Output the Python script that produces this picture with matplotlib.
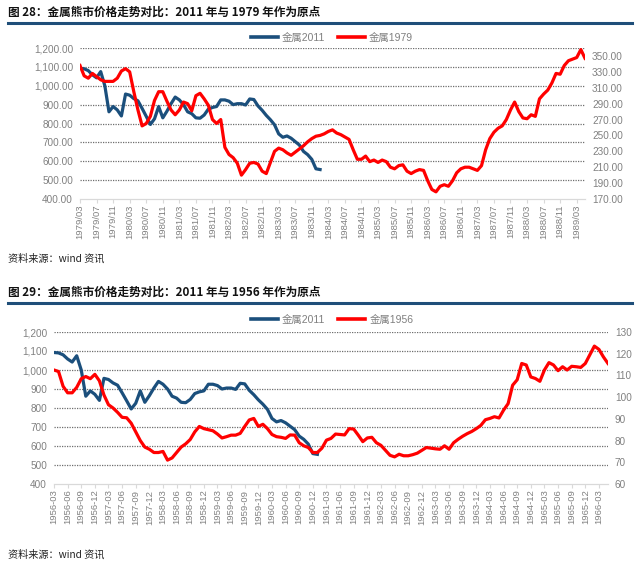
import matplotlib
matplotlib.use('Agg')
import matplotlib.pyplot as plt
from matplotlib.lines import Line2D
import numpy as np

plt.rcParams['font.family'] = ['Liberation Sans', 'Noto Sans CJK SC', 'DejaVu Sans']

# ---------------- data ----------------
title1 = "图 28：金属熊市价格走势对比：2011 年与 1979 年作为原点"
title2 = "图 29：金属熊市价格走势对比：2011 年与 1956 年作为原点"
source_text = "资料来源：wind 资讯"
legend_blue = "金属2011"
legend_red1 = "金属1979"
legend_red2 = "金属1956"

xlabels1 = ["1979/03", "1979/07", "1979/11", "1980/03", "1980/07", "1980/11",
            "1981/03", "1981/07", "1981/11", "1982/03", "1982/07", "1982/11",
            "1983/03", "1983/07", "1983/11", "1984/03", "1984/07", "1984/11",
            "1985/03", "1985/07", "1985/11", "1986/03", "1986/07", "1986/11",
            "1987/03", "1987/07", "1987/11", "1988/03", "1988/07", "1988/11",
            "1989/03"]
xlabels2 = ["1956-03", "1956-06", "1956-09", "1956-12", "1957-03", "1957-06",
            "1957-09", "1957-12", "1958-03", "1958-06", "1958-09", "1958-12",
            "1959-03", "1959-06", "1959-09", "1959-12", "1960-03", "1960-06",
            "1960-09", "1960-12", "1961-03", "1961-06", "1961-09", "1961-12",
            "1962-03", "1962-06", "1962-09", "1962-12", "1963-03", "1963-06",
            "1963-09", "1963-12", "1964-03", "1964-06", "1964-09", "1964-12",
            "1965-03", "1965-06", "1965-09", "1965-12", "1966-03"]

left_ticks = [400, 500, 600, 700, 800, 900, 1000, 1100, 1200]
right_ticks1 = [170, 190, 210, 230, 250, 270, 290, 310, 330, 350]
right_lim1 = (170, 360)
right_ticks2 = [60, 70, 80, 90, 100, 110, 120, 130]
right_lim2 = (60, 130)

# monthly index of metals, 2011 cycle (left axis, both charts)
metal_2011 = [1092, 1090, 1080, 1058, 1042, 1075, 1000, 862, 890, 872,
              840, 956, 950, 932, 920, 880, 838, 795, 825, 890,
              830, 865, 905, 940, 925, 900, 862, 852, 830, 828,
              845, 876, 885, 890, 925, 925, 918, 900, 905, 905,
              898, 930, 927, 893, 870, 843, 820, 793, 745, 727,
              734, 722, 704, 686, 652, 635, 610, 560, 556]

# 1979 cycle (right axis, chart 1)
metal_1979 = [338, 325, 322, 328, 324, 320, 318, 318, 318, 322,
              331, 334, 330, 305, 282, 262, 265, 274, 294, 305,
              305, 293, 282, 276, 282, 292, 290, 281, 300, 303,
              296, 288, 270, 265, 270, 235, 226, 222, 215, 200,
              207, 215, 216, 214, 205, 202, 216, 230, 234, 232,
              228, 225, 229, 233, 237, 242, 246, 249, 250, 252,
              255, 257, 253, 251, 248, 245, 232, 220, 220, 224,
              217, 219, 216, 219, 217, 210, 208, 212, 213, 205,
              202, 205, 207, 206, 193, 182, 179, 186, 188, 186,
              193, 203, 208, 210, 210, 208, 206, 212, 232, 246,
              254, 259, 262, 270, 282, 292, 280, 272, 271, 276,
              274, 296, 302, 307, 316, 328, 327, 338, 344, 346,
              348, 358, 347]

# 1956 cycle (right axis, chart 2)
metal_1956 = [112.5, 111.8, 105, 102, 102, 104.5, 108.5, 109.5, 108.5, 110.5,
              107.5, 101, 96.5, 95, 93, 90.7, 90.5, 88, 84, 80,
              77, 76, 74.5, 74.5, 75, 71, 72, 74.5, 77, 78.5,
              80.5, 84, 86.5, 85.5, 85, 84.5, 83, 81.2, 81.8, 82.5,
              82.5, 83.3, 86.5, 89.5, 90.2, 86.5, 87.5, 85.5, 82.8, 81.8,
              81.5, 81, 82.6, 82.5, 79, 77.6, 76.8, 74.5, 74.5, 76.5,
              80.2, 81, 83, 82.8, 82.6, 85.5, 85.3, 82.5, 79.5, 81.2,
              81.5, 79, 77.8, 75.5, 73.2, 72.5, 73.7, 73, 73, 73.5,
              74.2, 75.5, 76.8, 76.5, 76.2, 76, 77.6, 76, 79, 80.6,
              82, 83.2, 84.2, 85.5, 87, 89.6, 90.2, 91, 90.4, 94,
              97, 105.5, 108, 115.5, 114.8, 109.3, 108.6, 107.3, 112.5, 115.9,
              114.8, 112.2, 114, 112.5, 114.2, 114, 113.7, 115.5, 119.5, 123.5,
              122, 118.5, 115.5]

# ---------------- styling ----------------
W, H = 640, 569
BLUE = '#1b4f7c'
RED = '#ff0000'
TICKC = '#808080'
GRIDC = '#6e6e6e'

fig = plt.figure(figsize=(W / 100, H / 100), dpi=100)


def rect(l, t, r, b):
    return [l / W, 1 - b / H, (r - l) / W, (b - t) / H]


def header(title, y_title, y_line):
    fig.text(8 / W, 1 - y_title / H, title, fontsize=8.4, fontweight='bold',
             family=['Noto Sans CJK SC', 'DejaVu Sans'], va='center', ha='left',
             color='#111111')
    fig.add_artist(Line2D([8 / W, 632 / W], [1 - y_line / H] * 2,
                          color='#1f4e79', lw=2.2))


def source(y):
    fig.text(8 / W, 1 - y / H, source_text, fontsize=7.3, style='italic',
             family=['Noto Sans CJK SC', 'DejaVu Sans'], va='center', ha='left',
             color='#222222')


def panel(px, left_fmt, rlim, rticks, right_fmt, xlabels, xstep, red, red_label, y_legend):
    ax = fig.add_axes(rect(*px))
    ax2 = ax.twinx()
    n = len(red)
    xb = np.arange(len(metal_2011))
    xr = np.arange(n)
    ax.plot(xb, metal_2011, color=BLUE, lw=2.3, solid_joinstyle='round', label=legend_blue)
    ax2.plot(xr, red, color=RED, lw=2.3, solid_joinstyle='round', label=red_label)
    ax.set_xlim(0, n - 1)
    ax.set_ylim(left_ticks[0], left_ticks[-1])
    ax2.set_ylim(*rlim)
    for v in left_ticks[1:]:
        ax.axhline(v, color=GRIDC, lw=0.9, ls=(0, (1, 1.0)), zorder=0)
    ax.set_yticks(left_ticks)
    ax.set_yticklabels([left_fmt(v) for v in left_ticks])
    ax2.set_yticks(rticks)
    ax2.set_yticklabels([right_fmt(v) for v in rticks])
    ax.set_xticks(np.arange(0, len(xlabels) * xstep, xstep))
    ax.set_xticklabels(xlabels, rotation=90, fontsize=6.8, color=TICKC)
    for a in (ax, ax2):
        for s in ('top', 'left', 'right'):
            a.spines[s].set_visible(False)
        a.spines['bottom'].set_color('#d9d9d9')
        a.tick_params(axis='y', length=0, labelsize=7.2, labelcolor=TICKC, pad=5)
    ax.tick_params(axis='x', length=3, color='#d9d9d9', pad=1)
    ax.patch.set_visible(False)
    handles = [Line2D([], [], color=BLUE, lw=2.6), Line2D([], [], color=RED, lw=2.6)]
    fig.legend(handles, [legend_blue, red_label], loc='center', ncol=2,
               bbox_to_anchor=(332 / W, 1 - y_legend / H), frameon=False,
               fontsize=7.5, labelcolor='#7f7f7f', handlelength=2.6,
               handletextpad=0.4, columnspacing=1.2)
    return ax, ax2


header(title1, 12, 23)
panel((80, 48, 585, 199), lambda v: f"{v:,.2f}", right_lim1, right_ticks1,
      lambda v: f"{v:.2f}", xlabels1, 4, metal_1979, legend_red1, 38)
source(258)

header(title2, 292, 303)
panel((54, 332, 608, 484), lambda v: f"{v:,}", right_lim2, right_ticks2,
      lambda v: f"{v}", xlabels2, 3, metal_1956, legend_red2, 320)
source(554)

fig.savefig('out.png', dpi=100)
